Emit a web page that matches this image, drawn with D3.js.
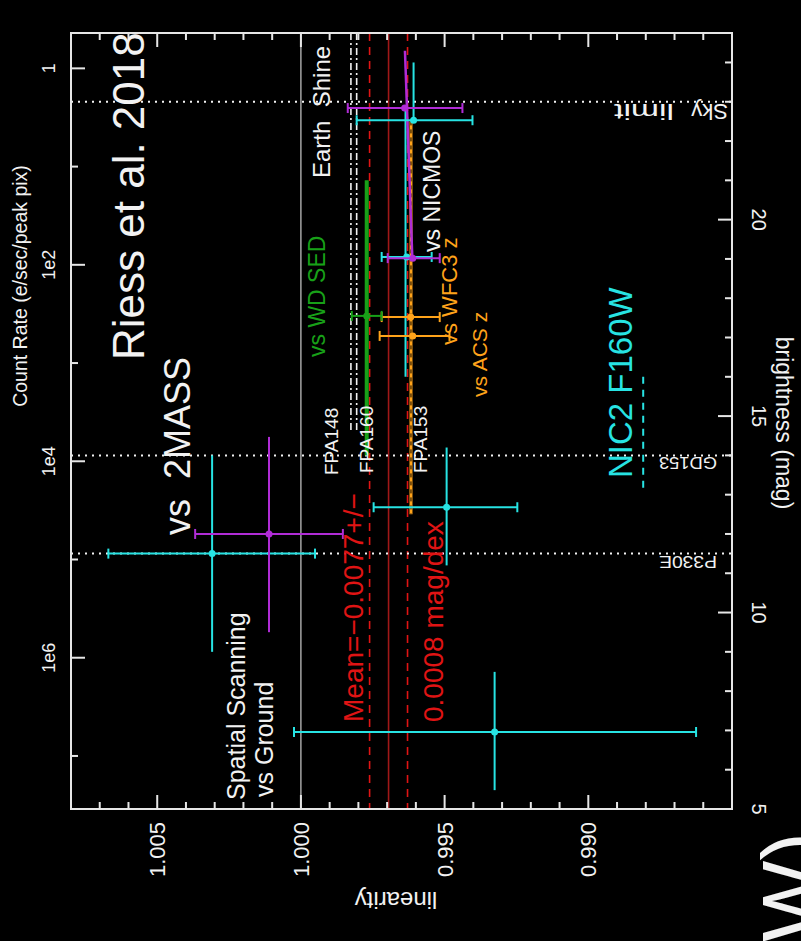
<!DOCTYPE html>
<html>
<head>
<meta charset="utf-8">
<script src="https://cdn.jsdelivr.net/npm/d3@7/dist/d3.min.js"></script>
<style>
  html, body { margin: 0; padding: 0; background: #000; }
  svg { display: block; }
</style>
</head>
<body>
<svg id="chart" width="801" height="941"></svg>
<script>
// ---- axis domains and ticks ----
const linDomain = [1.008, 0.985];          // linearity (drawn left -> right)
const magDomain = [5, 24.75];              // brightness in mag (drawn bottom -> top)
const linTicks = [1.005, 1.000, 0.995, 0.990];
const magTicks = [5, 10, 15, 20];
const rateTicks = [1, 1e2, 1e4, 1e6];
const rateTickLabels = ["1", "1e2", "1e4", "1e6"];
const rateZeroPoint = 23.85;               // mag giving 1 e/sec in the peak pixel

// ---- reference levels ----
const unityLin = 1.000;
const meanLin = 0.99695;
const meanErr = 0.00066;
const skyLimitMag = 23.0;
const gd153Mag = 14.0;
const p330eMag = 11.5;

// constant-linearity segments: [magStart, linStart, magEnd, linEnd]
const earthShineA = [24.75, 0.99826, 14.6, 0.99826];
const earthShineB = [24.75, 0.99806, 14.6, 0.99806];
const wdSedFit    = [21.0, 0.99771, 14.0, 0.99771];
const acsWfc3Fit  = [22.5, 0.99617, 12.5, 0.99617];
const nicmosFitM  = [24.3, 0.99638, 18.95, 0.99612];
const nicmosFitC  = [22.8, 0.99636, 16.0, 0.99636];
const nic2Range   = [16.0, 0.98809, 13.05, 0.98809];

// measurements: mag, lin, linMin, linMax, magMin, magMax (null = no bar)
const cyanPoints = [
  [22.53, 0.99608, 0.99403, 0.99806, 22.53, 24.0],
  [19.05, 0.99632, 0.99545, 0.99719, null, null],
  [12.68, 0.99493, 0.99247, 0.99747, 11.2, 14.2],
  [11.50, 1.00309, 0.99951, 1.00670, 9.0, 14.0],
  [6.96,  0.99326, 0.98625, 1.00024, 5.48, 8.49]
];
const magentaPoints = [
  [22.84, 0.99639, 0.99438, 0.99837, null, null],
  [19.02, 0.99611, 0.99517, 0.99698, null, null],
  [12.00, 1.00111, 0.99854, 1.00368, 9.5, 14.47]
];
const orangePoints = [
  [17.52, 0.99618, 0.99517, 0.99719, null, null],
  [17.04, 0.99611, 0.99483, 0.99726, null, null]
];
const greenPoints = [
  [17.55, 0.99771, 0.99719, 0.99823, null, null]
];

// ---- colours ----
const C = {
  frame: "#e6e6e6", white: "#f2f2f2", cyan: "#27e3e3", magenta: "#b02cd6",
  orange: "#ffa31a", green: "#18a018", red: "#e01414", darkRed: "#a01818"
};

// ---- layout ----
const F = { left: 71, right: 732, top: 33, bottom: 809 };
const svg = d3.select("#chart");
svg.append("rect").attr("width", 801).attr("height", 941).attr("fill", "#000");

const x = d3.scaleLinear().domain(linDomain).range([F.left, F.right]);
const y = d3.scaleLinear().domain(magDomain).range([F.bottom, F.top]);
const rate = d3.scaleLog()
  .domain(magDomain.map(m => Math.pow(10, 0.4 * (rateZeroPoint - m))))
  .range([F.bottom, F.top]);

svg.append("clipPath").attr("id", "clip").append("rect")
  .attr("x", F.left).attr("y", F.top)
  .attr("width", F.right - F.left).attr("height", F.bottom - F.top);
const plot = svg.append("g").attr("clip-path", "url(#clip)");

function seg(g, s, color, width, dash) {
  return g.append("line")
    .attr("x1", x(s[1])).attr("y1", y(s[0]))
    .attr("x2", x(s[3])).attr("y2", y(s[2]))
    .attr("stroke", color).attr("stroke-width", width)
    .attr("stroke-dasharray", dash || null);
}
function fullLin(lin, color, width, dash) {
  return seg(plot, [magDomain[1], lin, magDomain[0], lin], color, width, dash);
}
function fullMag(mag, color, width, dash) {
  return plot.append("line")
    .attr("x1", F.left).attr("x2", F.right)
    .attr("y1", y(mag)).attr("y2", y(mag))
    .attr("stroke", color).attr("stroke-width", width)
    .attr("stroke-dasharray", dash || null);
}

// unity line
fullLin(unityLin, "#cfcfcf", 1.2);

// earth shine references
seg(plot, earthShineA, C.white, 1.6, "7,3,2,3");
seg(plot, earthShineB, C.white, 1.6, "7,3,2,3");

// mean and its uncertainty
fullLin(meanLin + meanErr, C.red, 1.6, "8,6");
fullLin(meanLin, C.darkRed, 1.6);
fullLin(meanLin - meanErr, C.red, 1.6, "8,6");

// dotted brightness references
[skyLimitMag, gd153Mag, p330eMag].forEach(m => fullMag(m, C.white, 2, "2,5"));

// fits over magnitude ranges
seg(plot, wdSedFit, C.green, 4);
seg(plot, acsWfc3Fit, C.orange, 3);
seg(plot, acsWfc3Fit, "#000", 1, "4,4");
seg(plot, nicmosFitC, C.cyan, 2);
seg(plot, nicmosFitM, C.magenta, 2.5);
seg(plot, nic2Range, C.cyan, 2, "7,6");

// error-bar crosses
function crosses(data, color) {
  const g = plot.append("g").attr("stroke", color).attr("fill", color);
  data.forEach(d => {
    const [mag, lin, lo, hi, mLo, mHi] = d;
    const yy = y(mag);
    g.append("line").attr("x1", x(lo)).attr("x2", x(hi))
      .attr("y1", yy).attr("y2", yy).attr("stroke-width", 2);
    [lo, hi].forEach(v => g.append("line")
      .attr("x1", x(v)).attr("x2", x(v))
      .attr("y1", yy - 5).attr("y2", yy + 5).attr("stroke-width", 2));
    if (mLo !== null) {
      g.append("line").attr("x1", x(lin)).attr("x2", x(lin))
        .attr("y1", y(mLo)).attr("y2", y(mHi)).attr("stroke-width", 2);
    }
    g.append("circle").attr("cx", x(lin)).attr("cy", yy).attr("r", 3.5)
      .attr("stroke", "none");
  });
}
crosses(cyanPoints, C.cyan);
crosses(magentaPoints, C.magenta);
crosses(orangePoints, C.orange);
crosses(greenPoints, C.green);

// ---- frame and ticks ----
const axes = svg.append("g").attr("stroke", C.frame).attr("stroke-width", 2);
const linMinor = d3.range(985, 1009).map(v => v / 1000);
linMinor.forEach(v => {
  const major = linTicks.some(t => Math.abs(t - v) < 1e-9);
  const len = major ? 14 : 7;
  axes.append("line").attr("x1", x(v)).attr("x2", x(v))
    .attr("y1", F.bottom).attr("y2", F.bottom - len);
  axes.append("line").attr("x1", x(v)).attr("x2", x(v))
    .attr("y1", F.top).attr("y2", F.top + len);
});
d3.range(5, 25).forEach(m => {
  const len = magTicks.includes(m) ? 14 : 7;
  axes.append("line").attr("x1", F.right).attr("x2", F.right - len)
    .attr("y1", y(m)).attr("y2", y(m));
});
const rateMinor = d3.range(0, 8).map(p => Math.pow(10, p));
rateMinor.forEach(r => {
  const yy = rate(r);
  if (yy < F.top || yy > F.bottom) return;
  const len = rateTicks.includes(r) ? 14 : 7;
  axes.append("line").attr("x1", F.left).attr("x2", F.left + len)
    .attr("y1", yy).attr("y2", yy);
});
axes.append("rect").attr("x", F.left).attr("y", F.top)
  .attr("width", F.right - F.left).attr("height", F.bottom - F.top)
  .attr("fill", "none");

// ---- text ----
function txt(str, px, py, rot, size, color, anchor, family, len) {
  const t = svg.append("text")
    .attr("transform", `translate(${px},${py}) rotate(${rot})`)
    .attr("font-family", family || "'Liberation Sans', Arial, sans-serif")
    .attr("font-size", size).attr("fill", color)
    .attr("text-anchor", anchor || "start")
    .attr("xml:space", "preserve")
    .text(str);
  if (len) t.attr("textLength", len).attr("lengthAdjust", "spacingAndGlyphs");
  return t;
}

// axis labels
txt("Count Rate (e/sec/peak pix)", 27, 286, -90, 19.5, C.white, "middle");
rateTicks.forEach((r, i) => txt(rateTickLabels[i], 55, rate(r), -90, 18, C.white, "middle"));
txt("brightness (mag)", 776, 423, 90, 23, C.white, "middle");
magTicks.forEach(m => txt(String(m), 752, y(m), 90, 20, C.white, "middle"));
linTicks.forEach(v => txt(d3.format(".3f")(v), x(v) + 8, 822, -90, 22, C.white, "end"));
txt("linearity", 396, 892, 180, 24, C.white, "middle");

// annotations
txt("Riess et al. 2018", 144, 360, -90, 44, C.white);
txt("Earth  Shine", 330, 178, -90, 24, C.white);
txt("vs WD SED", 325, 357, -90, 23, C.green);
txt("vs NICMOS", 440, 252, -90, 23, C.white);
txt("vs WFC3 z", 457, 345, -90, 22, C.orange);
txt("vs ACS z", 487, 397, -90, 21, C.orange);
txt("vs  2MASS", 190, 535, -90, 36, C.white);
txt("Spatial Scanning", 245, 800, -90, 25, C.white);
txt("vs Ground", 273, 797, -90, 25, C.white);
txt("FPA148", 338, 475, -90, 19, C.white);
txt("FPA160", 373, 473, -90, 19, C.white);
txt("FPA153", 427, 473, -90, 19, C.white);
txt("Mean=\u22120.0077+/\u2212", 363, 722, -90, 28, C.red);
txt("0.0008 mag/dex", 443, 722, -90, 28, C.red);
txt("NIC2 F160W", 632, 478, -90, 33, C.cyan);
txt("Sky", 728, y(skyLimitMag) + 2, 180, 22, C.white);
txt("limit", 674, y(skyLimitMag) + 2, 180, 22, C.white, "start", null, 60);
txt("GD153", 717, y(gd153Mag) + 2, 180, 17, C.white, "start", null, 58);
txt("P330E", 717, y(p330eMag) + 2, 180, 17, C.white, "start", null, 58);
txt("(F160W)", 822, 832, -90, 86, C.white, "end");
</script>
</body>
</html>
